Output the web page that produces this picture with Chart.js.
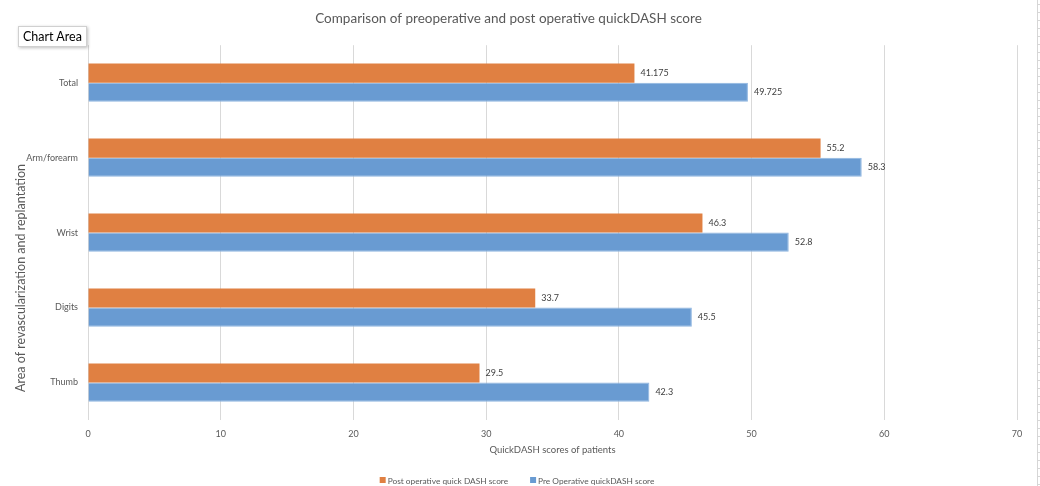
<!DOCTYPE html>
<html>
<head>
<meta charset="utf-8">
<script src="https://cdn.jsdelivr.net/npm/chart.js@4"></script>
<style>
    body { margin: 0; background: #fff; }
    #wrap { position: relative; width: 1040px; height: 486px; }
    #chart-area-tip {
        position: absolute; left: 18px; top: 26px; padding: 2px 4px;
        font: 12.5px Lato, sans-serif; color: #000; background: #fff;
        border: 1px solid #d0d0d0; box-shadow: 1px 1px 3px rgba(0,0,0,0.25);
    }
</style>
</head>
<body>
<div id="wrap">
    <canvas id="qd-chart" width="1040" height="486"></canvas>
    <div id="chart-area-tip">Chart Area</div>
</div>
<script>
// categories and values
const areas = ['Total', 'Arm/forearm', 'Wrist', 'Digits', 'Thumb'];
const postOpScores = [41.175, 55.2, 46.3, 33.7, 29.5];
const preOpScores = [49.725, 58.3, 52.8, 45.5, 42.3];
const xTicks = [0, 10, 20, 30, 40, 50, 60, 70];

const fontFamily = 'Lato, "Open Sans", sans-serif';
const grey = '#595959';

// valeurs au bout des barres
const valueLabels = {
    id: 'valueLabels',
    afterDatasetsDraw(chart) {
        const ctx = chart.ctx;
        ctx.save();
        ctx.font = '9px ' + fontFamily;
        ctx.fillStyle = '#404040';
        ctx.textAlign = 'left';
        ctx.textBaseline = 'middle';
        chart.data.datasets.forEach((ds, i) => {
            chart.getDatasetMeta(i).data.forEach((bar, j) => {
                ctx.fillText(String(ds.data[j]), bar.x + 6, bar.y);
            });
        });
        ctx.restore();
    }
};

// titre vertical, légende en bas, règle à droite
const extras = {
    id: 'extras',
    afterDraw(chart) {
        const ctx = chart.ctx;
        ctx.save();
        ctx.translate(21, 278);
        ctx.rotate(-Math.PI / 2);
        ctx.font = '12.5px ' + fontFamily;
        ctx.fillStyle = grey;
        ctx.textAlign = 'center';
        ctx.textBaseline = 'middle';
        ctx.fillText('Area of revascularization and replantation', 0, 0);
        ctx.restore();

        // légende
        ctx.save();
        ctx.font = '8.3px ' + fontFamily;
        ctx.textBaseline = 'middle';
        ctx.textAlign = 'left';
        const gap = 22, box = 6;
        const items = chart.data.datasets.map(ds => ({
            text: ds.label, color: ds.backgroundColor,
            w: box + 2 + ctx.measureText(ds.label).width
        }));
        const total = items.reduce((s, it) => s + it.w, 0) + gap * (items.length - 1);
        let x = 517 - total / 2;
        const y = 481;
        items.forEach(it => {
            ctx.fillStyle = it.color;
            ctx.fillRect(x, y - box / 2 - 1, box, box);
            ctx.fillStyle = grey;
            ctx.fillText(it.text, x + box + 2, y);
            x += it.w + gap;
        });
        ctx.restore();

        ctx.save();
        ctx.strokeStyle = '#d6d6d6';
        ctx.lineWidth = 1;
        ctx.beginPath();
        ctx.moveTo(1037.5, 0);
        ctx.lineTo(1037.5, 486);
        for (let y = 4; y < 486; y += 8) {
            ctx.moveTo(1037.5, y + 0.5);
            ctx.lineTo(1040, y + 0.5);
        }
        ctx.stroke();
        ctx.restore();
    }
};

const chart = new Chart(document.getElementById('qd-chart'), {
    type: 'bar',
    data: {
        labels: areas,
        datasets: [{
            label: 'Post operative quick DASH score',
            data: postOpScores,
            backgroundColor: '#e08042',
            categoryPercentage: 0.51,
            barPercentage: 1.0
        }, {
            label: 'Pre Operative quickDASH score',
            data: preOpScores,
            backgroundColor: '#699bd2',
            borderColor: '#8fb5e0',
            borderWidth: 1,
            categoryPercentage: 0.51,
            barPercentage: 1.0
        }]
    },
    options: {
        indexAxis: 'y',
        responsive: false,
        animation: false,
        layout: { padding: { left: 0, right: 23, bottom: 18 } },
        scales: {
            x: {
                min: 0,
                max: 70,
                afterBuildTicks: (axis) => { axis.ticks = xTicks.map(v => ({ value: v })); },
                afterFit: (axis) => { axis.height = 48; },
                grid: { color: '#d9d9d9', drawTicks: false },
                border: { display: false },
                ticks: { color: grey, font: { family: fontFamily, size: 9 }, padding: 9 },
                title: {
                    display: true,
                    text: 'QuickDASH scores of patients',
                    color: grey,
                    font: { family: fontFamily, size: 9.5 },
                    padding: { top: 4, bottom: 12 }
                }
            },
            y: {
                afterFit: (axis) => { axis.width = 88; },
                grid: { display: false, drawTicks: false },
                border: { display: false },
                ticks: { color: grey, font: { family: fontFamily, size: 9 }, padding: 10 }
            }
        },
        plugins: {
            title: {
                display: true,
                text: 'Comparison of preoperative and post operative quickDASH score',
                color: grey,
                font: { family: fontFamily, size: 13.5, weight: 'normal' },
                padding: { top: 11, bottom: 18 }
            },
            legend: { display: false },
            tooltip: { enabled: false }
        }
    },
    plugins: [valueLabels, extras]
});
</script>
</body>
</html>
